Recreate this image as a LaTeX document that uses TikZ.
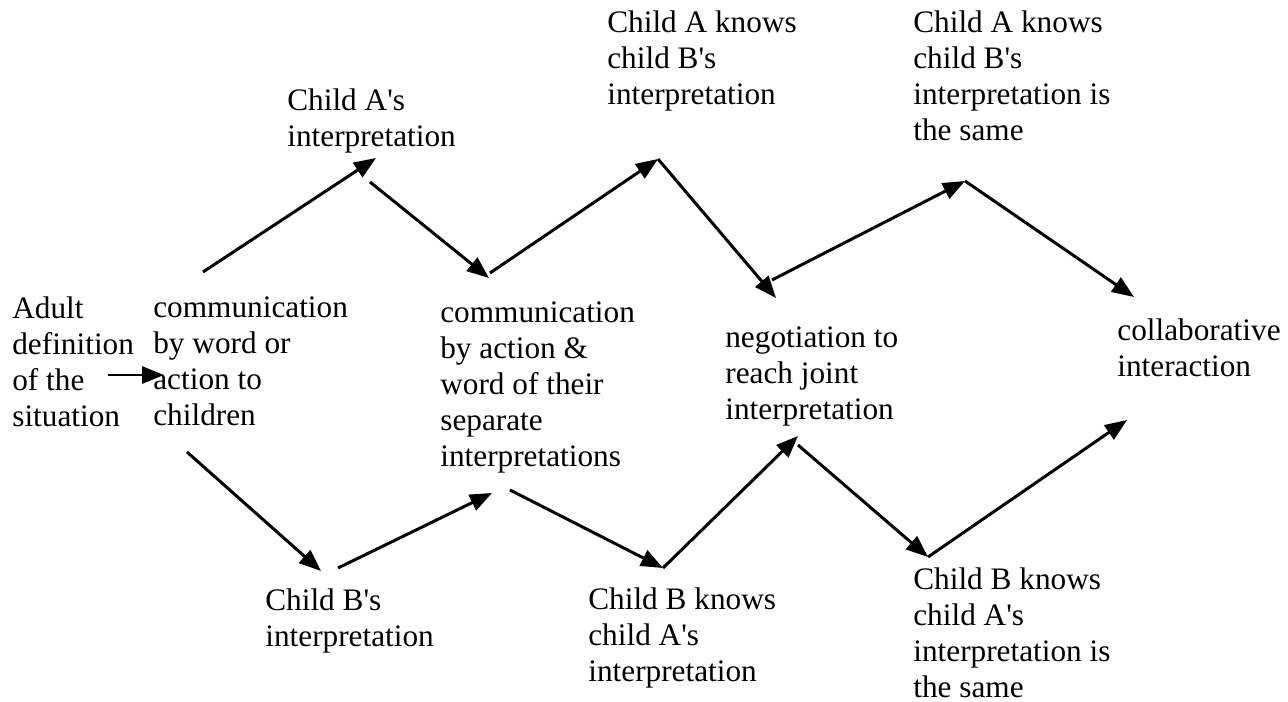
\documentclass[tikz,border=0pt]{standalone}
\usepackage{fontspec}
\setmainfont{Liberation Serif}
\usetikzlibrary{arrows.meta}
\newcommand{\apos}{\textquotesingle}

\begin{document}
\begin{tikzpicture}[
  x=0.02cm, y=-0.02cm,
  txt/.style={anchor=north west, inner sep=0pt, align=left,
              font=\fontsize{17.8}{20.5}\selectfont},
  arr/.style={-{Triangle[length=0.44cm, width=0.34cm]}, line width=1.7pt}
]
  \useasboundingbox (0,0) rectangle (1288,702);

  \node[txt] (adult)  at (12,296)   {Adult\\definition\\of the\\situation};
  \node[txt] (comm1)  at (153,296)  {communication\\by word or\\action to\\children};
  \node[txt] (childA) at (287,88)   {Child A\apos s\\interpretation};
  \node[txt] (childB) at (265,588)  {Child B\apos s\\interpretation};
  \node[txt] (comm2)  at (440,301)  {communication\\by action \&\\word of their\\separate\\interpretations};
  \node[txt] (aKnows) at (607,10)   {Child A knows\\child B\apos s\\interpretation};
  \node[txt] (bKnows) at (588,587)  {Child B knows\\child A\apos s\\interpretation};
  \node[txt] (negot)  at (725,326)  {negotiation to\\reach joint\\interpretation};
  \node[txt] (aSame)  at (913,10)   {Child A knows\\child B\apos s\\interpretation is\\the same};
  \node[txt] (bSame)  at (913,567)  {Child B knows\\child A\apos s\\interpretation is\\the same};
  \node[txt] (collab) at (1117,318) {collaborative\\interaction};

  % arrow ends
  \coordinate (adultOut)  at (108,375);
  \coordinate (comm1In)   at (164,375);
  \coordinate (comm1Up)   at (203,272);
  \coordinate (comm1Down) at (187,452);
  \coordinate (childAIn)  at (376,158);
  \coordinate (childAOut) at (370,182);
  \coordinate (childBIn)  at (321,571);
  \coordinate (childBOut) at (338,568);
  \coordinate (comm2InA)  at (489,278);
  \coordinate (comm2InB)  at (492,493);
  \coordinate (comm2Up)   at (490,273);
  \coordinate (comm2Down) at (510,490);
  \coordinate (aKnowsPt)  at (658,159);
  \coordinate (bKnowsPt)  at (663,568);
  \coordinate (negotInA)  at (776,298);
  \coordinate (negotInB)  at (798,436);
  \coordinate (negotUp)   at (772,280);
  \coordinate (negotDown) at (798,445);
  \coordinate (aSamePt)   at (965,181);
  \coordinate (bSamePt)   at (928,557);
  \coordinate (collabInA) at (1134,297);
  \coordinate (collabInB) at (1127,420);

  \draw[arr] (adultOut) -- (comm1In);
  \draw[arr] (comm1Up) -- (childAIn);
  \draw[arr] (comm1Down) -- (childBIn);
  \draw[arr] (childAOut) -- (comm2InA);
  \draw[arr] (childBOut) -- (comm2InB);
  \draw[arr] (comm2Up) -- (aKnowsPt);
  \draw[arr] (comm2Down) -- (bKnowsPt);
  \draw[arr] (aKnowsPt) -- (negotInA);
  \draw[arr] (bKnowsPt) -- (negotInB);
  \draw[arr] (negotUp) -- (aSamePt);
  \draw[arr] (negotDown) -- (bSamePt);
  \draw[arr] (aSamePt) -- (collabInA);
  \draw[arr] (bSamePt) -- (collabInB);
\end{tikzpicture}
\end{document}
